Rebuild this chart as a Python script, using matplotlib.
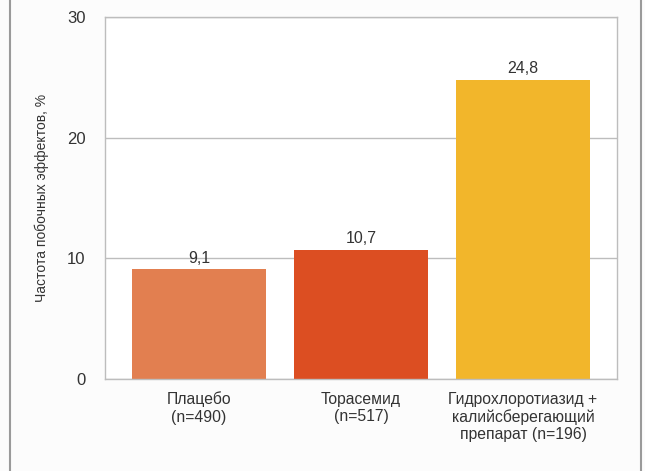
import matplotlib
matplotlib.use('Agg')
import matplotlib.pyplot as plt
from matplotlib.lines import Line2D

plt.rcParams['font.family'] = ['Liberation Sans', 'DejaVu Sans']

# Частота побочных эффектов по группам
groups = ['Плацебо\n(n=490)', 'Торасемид\n(n=517)',
          'Гидрохлоротиазид +\nкалийсберегающий\nпрепарат (n=196)']
values = [9.1, 10.7, 24.8]
colors = ['#E27F50', '#DC4E22', '#F2B62B']
yticks = [0, 10, 20, 30]

fig = plt.figure(figsize=(6.45, 4.71), dpi=100, facecolor='#fcfcfc')
ax = fig.add_axes([0.1628, 0.1953, 0.7938, 0.7686])
ax.set_facecolor('white')

x = range(len(values))
ax.bar(x, values, width=0.83, color=colors, zorder=2)
for xi, v in zip(x, values):
    ax.text(xi, v + 0.3, f'{v:.1f}'.replace('.', ','), ha='center', va='bottom',
            fontsize=11.5, color='#333333')

ax.set_xlim(-0.58, 2.58)
ax.set_ylim(0, 30)
ax.set_yticks(yticks)
ax.yaxis.grid(True, color='#bdbdbd', linewidth=1, zorder=1)
ax.set_axisbelow(True)
ax.tick_params(length=0, pad=14, labelsize=12, labelcolor='#333333', axis='y')
ax.tick_params(length=0, pad=9, labelsize=11.3, labelcolor='#333333', axis='x')
ax.set_xticks(list(x))
ax.set_xticklabels(groups, linespacing=1.18)
for s in ax.spines.values():
    s.set_color('#bdbdbd')
    s.set_linewidth(1)

ax.set_ylabel('Частота побочных эффектов, %', fontsize=10, color='#333333')
ax.yaxis.set_label_coords(-0.11, 0.5)

# боковые рамки
fig.add_artist(Line2D([10 / 645, 10 / 645], [0, 1], color='#9a9a9a', linewidth=1.5))
fig.add_artist(Line2D([641 / 645, 641 / 645], [0, 1], color='#9a9a9a', linewidth=1.5))

fig.savefig('out.png', dpi=100, facecolor=fig.get_facecolor())
